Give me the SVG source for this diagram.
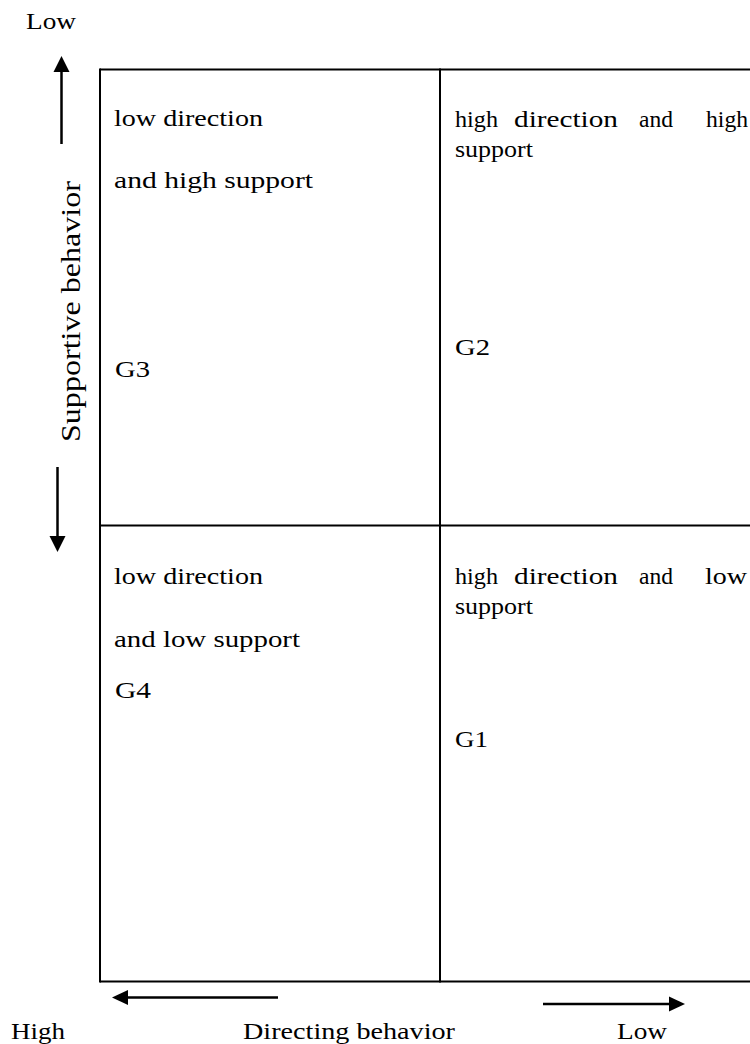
<svg xmlns="http://www.w3.org/2000/svg" width="750" height="1044" viewBox="0 0 750 1044">
<style>
  text { font-family: "Liberation Serif", "Times New Roman", serif; font-size: 23px; fill: #000; }
  .big { font-size: 27px; }
  .border { stroke: #000; stroke-width: 2; fill: none; }
  .conn line { stroke: #000; stroke-width: 2.5; }
  .conn polygon { fill: #000; }
</style>
<rect width="750" height="1044" fill="#fff"/>

<g id="grid">
  <line class="border" x1="100" y1="69.5" x2="752" y2="69.5"/>
  <line class="border" x1="100" y1="981.5" x2="752" y2="981.5"/>
  <line class="border" x1="100" y1="68.5" x2="100" y2="982.5"/>
  <line class="border" x1="440" y1="68.5" x2="440" y2="982.5"/>
  <line class="border" x1="100" y1="525.5" x2="752" y2="525.5"/>
</g>

<g id="cell-G3">
  <text x="114" y="126" textLength="149" lengthAdjust="spacingAndGlyphs">low direction</text>
  <text x="114" y="188" textLength="199" lengthAdjust="spacingAndGlyphs">and high support</text>
  <text x="115" y="377" textLength="35" lengthAdjust="spacingAndGlyphs">G3</text>
</g>

<g id="cell-G2">
  <text x="455" y="127" textLength="43" lengthAdjust="spacingAndGlyphs">high</text>
  <text x="514" y="127" textLength="104" lengthAdjust="spacingAndGlyphs">direction</text>
  <text x="639" y="127" textLength="34" lengthAdjust="spacingAndGlyphs">and</text>
  <text x="706" y="127" textLength="42" lengthAdjust="spacingAndGlyphs">high</text>
  <text x="455" y="157" textLength="78" lengthAdjust="spacingAndGlyphs">support</text>
  <text x="455" y="355" textLength="35" lengthAdjust="spacingAndGlyphs">G2</text>
</g>

<g id="cell-G4">
  <text x="114" y="584" textLength="149" lengthAdjust="spacingAndGlyphs">low direction</text>
  <text x="114" y="647" textLength="186" lengthAdjust="spacingAndGlyphs">and low support</text>
  <text x="115" y="698" textLength="36" lengthAdjust="spacingAndGlyphs">G4</text>
</g>

<g id="cell-G1">
  <text x="455" y="584" textLength="43" lengthAdjust="spacingAndGlyphs">high</text>
  <text x="514" y="584" textLength="104" lengthAdjust="spacingAndGlyphs">direction</text>
  <text x="639" y="584" textLength="34" lengthAdjust="spacingAndGlyphs">and</text>
  <text x="705" y="584" textLength="42" lengthAdjust="spacingAndGlyphs">low</text>
  <text x="455" y="614" textLength="78" lengthAdjust="spacingAndGlyphs">support</text>
  <text x="455" y="747" textLength="33" lengthAdjust="spacingAndGlyphs">G1</text>
</g>

<g id="axis-labels">
  <text x="26" y="29" textLength="50" lengthAdjust="spacingAndGlyphs">Low</text>
  <text class="big" transform="translate(80,442) rotate(-90)" textLength="261" lengthAdjust="spacingAndGlyphs">Supportive behavior</text>
  <text x="11" y="1039" textLength="54" lengthAdjust="spacingAndGlyphs">High</text>
  <text x="243" y="1039" textLength="212" lengthAdjust="spacingAndGlyphs">Directing behavior</text>
  <text x="617" y="1039" textLength="50" lengthAdjust="spacingAndGlyphs">Low</text>
</g>

<g id="connectors" class="conn">
  <line x1="61.5" y1="144" x2="61.5" y2="68"/>
  <polygon points="61.5,56 69.5,72 53.5,72"/>
  <line x1="57.5" y1="467" x2="57.5" y2="538"/>
  <polygon points="57.5,552 49.5,536 65.5,536"/>
  <line x1="278" y1="997.5" x2="125" y2="997.5"/>
  <polygon points="112,997.5 128,990 128,1005"/>
  <line x1="543" y1="1004" x2="672" y2="1004"/>
  <polygon points="685,1004 669,996.5 669,1011.5"/>
</g>
</svg>
